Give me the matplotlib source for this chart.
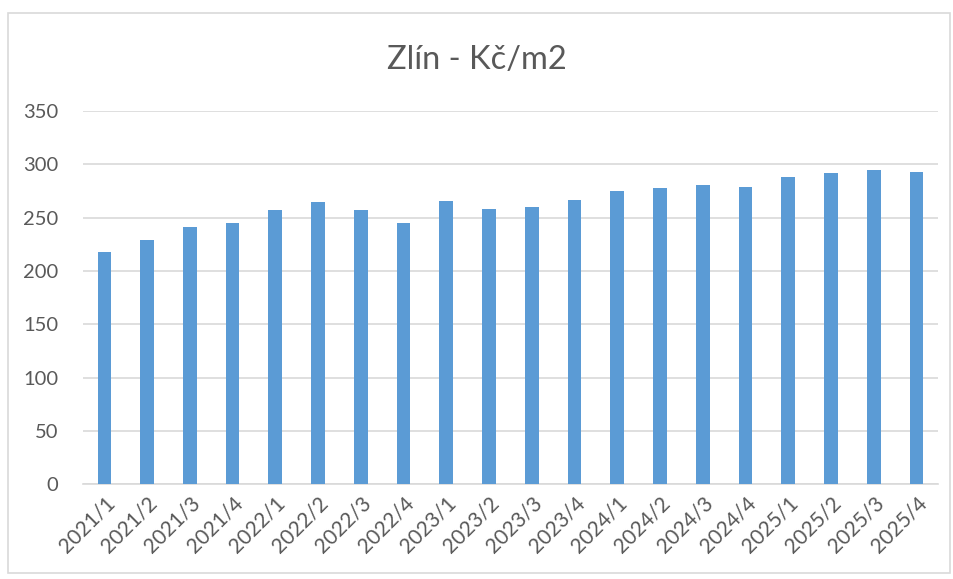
import matplotlib
matplotlib.use("Agg")
import matplotlib.pyplot as plt
from matplotlib.patches import Rectangle

# quarterly price per m2, Zlín
quarters = ["2021/1", "2021/2", "2021/3", "2021/4",
            "2022/1", "2022/2", "2022/3", "2022/4",
            "2023/1", "2023/2", "2023/3", "2023/4",
            "2024/1", "2024/2", "2024/3", "2024/4",
            "2025/1", "2025/2", "2025/3", "2025/4"]
prices = [218, 229, 241, 245,
          257, 265, 257, 245,
          266, 258, 260, 267,
          275, 278, 281, 279,
          288, 292, 295, 293]
yticks = [0, 50, 100, 150, 200, 250, 300, 350]

plt.rcParams['font.family'] = ['Lato', 'DejaVu Sans']

fig = plt.figure(figsize=(9.54, 5.79), dpi=100)
ax = fig.add_axes([0.087, 0.164, 0.896, 0.644])

x = range(len(quarters))
ax.bar(x, prices, width=0.32, color="#5B9BD5", zorder=3)

ax.set_xlim(-0.5, len(quarters) - 0.5)
ax.set_ylim(0, 350)
ax.set_yticks(yticks)
ax.set_xticks(list(x))
ax.set_xticklabels(quarters, rotation=45, ha="right", rotation_mode="anchor",
                   fontsize=15, color="#595959")
ax.tick_params(axis="y", labelsize=14.5, labelcolor="#595959", length=0, pad=18)
ax.tick_params(axis="x", length=0, pad=6)
ax.grid(axis="y", color="#d9d9d9", linewidth=1.2, zorder=0)
for s in ["top", "right", "left"]:
    ax.spines[s].set_visible(False)
ax.spines["bottom"].set_color("#d9d9d9")
ax.spines["bottom"].set_linewidth(1.2)

fig.text(0.5, 0.897, "Zlín - Kč/m2", ha="center", va="center",
         fontsize=23.5, color="#595959")

# outer chart frame
fig.patches.append(Rectangle((0.008, 0.01), 0.988, 0.967, transform=fig.transFigure,
                             fill=False, edgecolor="#d9d9d9", linewidth=1.2))

fig.savefig("out.png", dpi=100)
